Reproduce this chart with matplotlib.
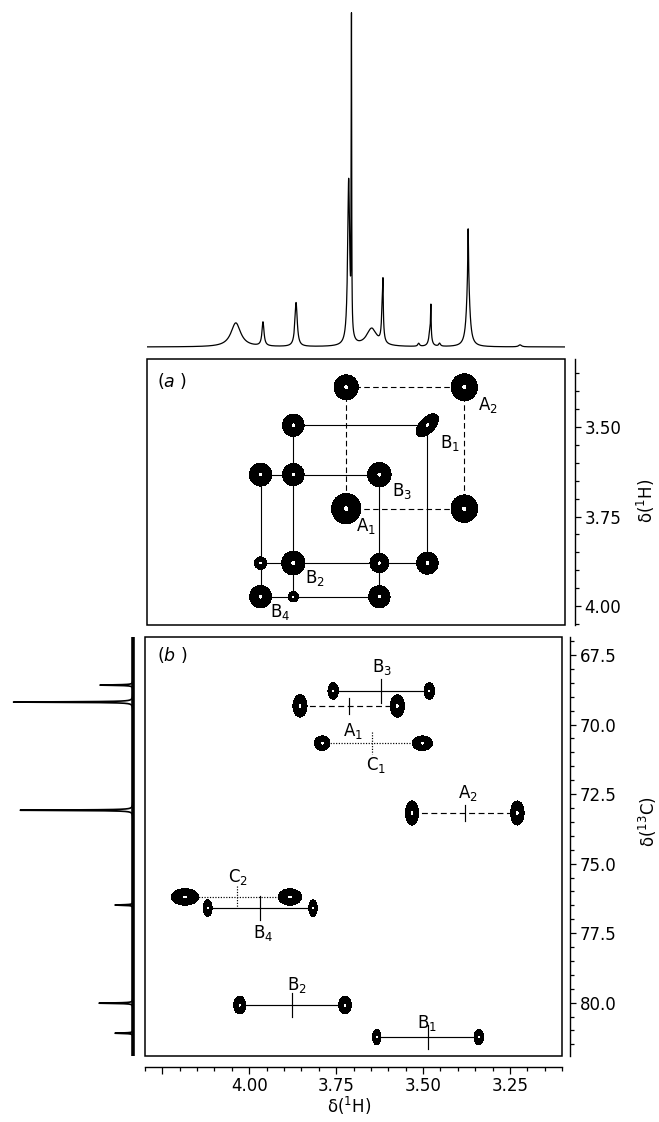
import numpy as np
import matplotlib
matplotlib.use("Agg")
import matplotlib.pyplot as plt
from matplotlib.ticker import MultipleLocator, FormatStrFormatter, FixedLocator, FixedFormatter
from matplotlib.patches import Rectangle

plt.rcParams['font.family'] = ['DejaVu Sans']
plt.rcParams['mathtext.fontset'] = 'dejavusans'

# ---------------- data ----------------
# 1D proton spectrum (top trace): peak position (ppm), height (px above baseline), half-width (ppm)
h1_ppm = [4.045, 3.967, 3.872, 3.721, 3.713, 3.655, 3.624, 3.6225,
          3.520, 3.487, 3.485, 3.460, 3.378, 3.378, 3.229]
h1_height = [24, 24, 44, 165, 306, 18, 44, 30,
             3, 18, 28, 3, 66, 52, 2]
h1_width = [0.017, 0.0035, 0.004, 0.0035, 0.0007, 0.018, 0.0028, 0.0008,
            0.003, 0.004, 0.0008, 0.003, 0.0055, 0.0012, 0.005]

# 1D carbon spectrum (left trace): position (ppm), height (px)
c13_ppm = [68.58, 69.19, 73.08, 76.49, 80.02, 81.10]
c13_height = [33, 120, 113, 18, 34, 18]

# Panel (a): proton shifts of the spin systems
spins = ['A1', 'A2', 'B1', 'B2', 'B3', 'B4']
spin_shift = [3.728, 3.389, 3.495, 3.880, 3.633, 3.974]

# cross peaks of (a): (F2 spin, F1 spin), contour size (ppm), tilt
cosy_f2 = ['A1', 'A2', 'B2', 'B1', 'B4', 'B2', 'B3', 'A1', 'A2', 'B4', 'B2', 'B3', 'B1', 'B4', 'B2', 'B3']
cosy_f1 = ['A2', 'A2', 'B1', 'B1', 'B3', 'B3', 'B3', 'A1', 'A1', 'B2', 'B2', 'B2', 'B2', 'B4', 'B4', 'B4']
cosy_size = [0.0152, 0.0165, 0.0136, 0.0140, 0.0140, 0.0136, 0.0148, 0.0185, 0.0168,
             0.0076, 0.0146, 0.0118, 0.0136, 0.0137, 0.0064, 0.0135]
cosy_tilt = [0, 0, 0, 0.55, 0, 0, 0, 0, 0, 0, 0, 0, 0, 0, 0, 0]

# connectivity lines of (a): horizontal (row spin, from, to), vertical (column spin, from, to)
conn_dashed_h = [('A2', 'A1', 'A2'), ('A1', 'A1', 'A2')]
conn_dashed_v = [('A1', 'A2', 'A1'), ('A2', 'A2', 'A1')]
conn_solid_h = [('B1', 'B2', 'B1'), ('B3', 'B4', 'B3'), ('B2', 'B4', 'B1'), ('B4', 'B4', 'B3')]
conn_solid_v = [('B2', 'B1', 'B4'), ('B1', 'B1', 'B2'), ('B4', 'B3', 'B4'), ('B3', 'B3', 'B4')]

# label positions of (a) (F2 ppm, F1 ppm)
a_label_text = ['A2', 'B1', 'B3', 'A1', 'B2', 'B4']
a_label_x = [3.321, 3.430, 3.568, 3.671, 3.818, 3.918]
a_label_y = [3.439, 3.545, 3.679, 3.777, 3.922, 4.017]

# Panel (b): coupled HSQC rows
hsqc_name = ['B3', 'A1', 'C1', 'A2', 'C2', 'B4', 'B2', 'B1']
hsqc_c13 = [68.79, 69.33, 70.67, 73.18, 76.20, 76.60, 80.09, 81.24]
hsqc_h = [3.620, 3.714, 3.646, 3.380, 4.034, 3.968, 3.876, 3.486]
hsqc_split = [0.277, 0.280, 0.288, 0.303, 0.302, 0.303, 0.303, 0.294]
hsqc_sx_left = [0.0066, 0.0089, 0.0098, 0.0082, 0.0173, 0.0056, 0.0076, 0.0053]
hsqc_sx_right = [0.0066, 0.0089, 0.0128, 0.0085, 0.0147, 0.0053, 0.0079, 0.0060]
hsqc_sy = [0.130, 0.176, 0.115, 0.190, 0.130, 0.130, 0.140, 0.122]
hsqc_label_x = [3.617, 3.701, 3.635, 3.372, 4.033, 3.960, 3.862, 3.488]
hsqc_label_y = [67.93, 70.23, 71.46, 72.46, 75.49, 77.50, 79.37, 80.74]

h_ticks = [4.25, 4.00, 3.75, 3.50, 3.25]
h_ticklabels = ['', '4.00', '3.75', '3.50', '3.25']

# ---------------- figure ----------------
W, H = 659, 1122
fig = plt.figure(figsize=(W / 100, H / 100), dpi=100)


def rect(x0, y0, x1, y1):
    return [x0 / W, 1 - y1 / H, (x1 - x0) / W, (y1 - y0) / H]


XLIM = (4.30, 3.10)
LW_FRAME = 1.1
CENTER = 0.965


def lorentz_sum(axis, pos, hgt, wid):
    out = np.zeros_like(axis)
    for p, h, g in zip(pos, hgt, wid):
        out += h * g ** 2 / ((axis - p) ** 2 + g ** 2)
    return out


def gauss_field(X, Y, px, py, sx, sy, rho):
    Z = np.zeros_like(X)
    for a, b, u, v, r in zip(px, py, sx, sy, rho):
        dx = (X - a) / u
        dy = (Y - b) / v
        Z += np.exp(-(dx ** 2 - 2 * r * dx * dy + dy ** 2) / (2 * (1 - r ** 2)))
    return Z


def framed(ax):
    ax.add_patch(Rectangle((0, 0), 1, 1, transform=ax.transAxes, fill=False,
                           lw=LW_FRAME, ec='black', clip_on=False, zorder=6))
    for s in ['left', 'top', 'bottom', 'right']:
        ax.spines[s].set_visible(False)


# ---- top 1D proton spectrum ----
ax_t = fig.add_axes(rect(147, 5, 565, 352))
xh = np.linspace(3.10, 4.30, 12001)
ax_t.plot(xh, lorentz_sum(xh, h1_ppm, h1_height, h1_width), color='black', lw=0.9)
ax_t.set_xlim(XLIM)
ax_t.set_ylim(-5, 342)
ax_t.axis('off')

# ---- panel (a) ----
ax_a = fig.add_axes(rect(147, 359, 565, 625))
ax_a.set_xlim(XLIM)
ax_a.set_ylim(4.053, 3.310)
framed(ax_a)
ax_a.spines['right'].set_visible(True)
ax_a.spines['right'].set_position(('outward', 7))
ax_a.spines['right'].set_linewidth(1.0)
ax_a.set_xticks([])
ax_a.yaxis.tick_right()
ax_a.yaxis.set_major_locator(MultipleLocator(0.25))
ax_a.yaxis.set_minor_locator(MultipleLocator(0.05))
ax_a.yaxis.set_major_formatter(FormatStrFormatter('%.2f'))
ax_a.tick_params(axis='y', which='major', direction='out', length=4.5, width=0.9, pad=2.5, labelsize=12)
ax_a.tick_params(axis='y', which='minor', direction='out', length=2.7, width=0.9)

sh = dict(zip(spins, spin_shift))
for row, a, b in conn_dashed_h:
    ax_a.plot([sh[a], sh[b]], [sh[row], sh[row]], color='black', lw=0.8, ls=(0, (5, 3)), zorder=2)
for col, a, b in conn_dashed_v:
    ax_a.plot([sh[col], sh[col]], [sh[a], sh[b]], color='black', lw=0.8, ls=(0, (5, 3)), zorder=2)
for row, a, b in conn_solid_h:
    ax_a.plot([sh[a], sh[b]], [sh[row], sh[row]], color='black', lw=0.8, zorder=2)
for col, a, b in conn_solid_v:
    ax_a.plot([sh[col], sh[col]], [sh[a], sh[b]], color='black', lw=0.8, zorder=2)

xa = np.linspace(3.10, 4.30, 1401)
ya = np.linspace(3.31, 4.053, 900)
XA, YA = np.meshgrid(xa, ya)
ZA = gauss_field(XA, YA, [sh[s] for s in cosy_f2], [sh[s] for s in cosy_f1],
                 cosy_size, cosy_size, cosy_tilt)
ax_a.contourf(XA, YA, ZA, levels=[0.075, CENTER, 100], colors=['black', 'white'], zorder=3)

for t, x, y in zip(a_label_text, a_label_x, a_label_y):
    ax_a.text(x, y, f'{t[0]}$_{{{t[1]}}}$', ha='center', va='center', fontsize=12, zorder=5)
ax_a.text(0.024, 0.917, r'($\it{a}$ )', transform=ax_a.transAxes, ha='left', va='center', fontsize=12.5)

# ---- panel (b) ----
ax_b = fig.add_axes(rect(145, 637, 562, 1056))
ax_b.set_xlim(XLIM)
ax_b.set_ylim(81.92, 66.85)
framed(ax_b)
ax_b.spines['right'].set_visible(True)
ax_b.spines['right'].set_position(('outward', 6))
ax_b.spines['bottom'].set_visible(True)
ax_b.spines['bottom'].set_position(('outward', 8))
ax_b.spines['right'].set_linewidth(1.0)
ax_b.spines['bottom'].set_linewidth(1.0)
ax_b.yaxis.tick_right()
ax_b.yaxis.set_major_locator(MultipleLocator(2.5))
ax_b.yaxis.set_minor_locator(MultipleLocator(0.5))
ax_b.yaxis.set_major_formatter(FormatStrFormatter('%.1f'))
ax_b.xaxis.set_major_locator(FixedLocator(h_ticks))
ax_b.xaxis.set_major_formatter(FixedFormatter(h_ticklabels))
ax_b.xaxis.set_minor_locator(MultipleLocator(0.05))
ax_b.tick_params(axis='y', which='major', direction='out', length=4.5, width=0.9, pad=2.5, labelsize=12)
ax_b.tick_params(axis='y', which='minor', direction='out', length=2.7, width=0.9)
ax_b.tick_params(axis='x', which='major', direction='out', length=5, width=0.9, pad=2, labelsize=12)
ax_b.tick_params(axis='x', which='minor', direction='out', length=3, width=0.9)

styles = {'A': (0, (5, 3)), 'B': '-', 'C': (0, (1, 1.3))}
cross_half = {'A': 0.30, 'B': 0.43, 'C': 0.40}
pk_x, pk_y, pk_sx, pk_sy = [], [], [], []
for n, c, h, j, sl, sr, sy in zip(hsqc_name, hsqc_c13, hsqc_h, hsqc_split,
                                   hsqc_sx_left, hsqc_sx_right, hsqc_sy):
    ls = styles[n[0]]
    ax_b.plot([h + j / 2, h - j / 2], [c, c], color='black', lw=0.85, ls=ls, zorder=2)
    vls = '-' if n[0] == 'A' else ls
    ax_b.plot([h, h], [c - cross_half[n[0]], c + cross_half[n[0]]], color='black',
              lw=0.85, ls=vls, zorder=2)
    pk_x += [h + j / 2, h - j / 2]
    pk_y += [c, c]
    pk_sx += [sl, sr]
    pk_sy += [sy, sy]

xb = np.linspace(3.10, 4.30, 1401)
yb = np.linspace(66.85, 81.92, 900)
XB, YB = np.meshgrid(xb, yb)
ZB = gauss_field(XB, YB, pk_x, pk_y, pk_sx, pk_sy, [0] * len(pk_x))
ax_b.contourf(XB, YB, ZB, levels=[0.075, CENTER, 100], colors=['black', 'white'], zorder=3)

for t, x, y in zip(hsqc_name, hsqc_label_x, hsqc_label_y):
    ax_b.text(x, y, f'{t[0]}$_{{{t[1]}}}$', ha='center', va='center', fontsize=12, zorder=5)
ax_b.text(0.029, 0.957, r'($\it{b}$ )', transform=ax_b.transAxes, ha='left', va='center', fontsize=12.5)

# ---- left 1D carbon spectrum ----
ax_c = fig.add_axes(rect(0, 637, 140, 1056))
yc = np.linspace(66.85, 81.92, 9001)
ax_c.plot(lorentz_sum(yc, c13_ppm, c13_height, [0.012] * len(c13_ppm)), yc, color='black', lw=1.2)
ax_c.axvline(0, color='black', lw=2.6)
ax_c.set_xlim(133, -7)
ax_c.set_ylim(81.92, 66.85)
ax_c.axis('off')

# ---- axis titles ----
fig.text(646 / W, 1 - 501 / H, 'δ($^{1}$H)', rotation=90, ha='center', va='center', fontsize=12)
fig.text(648 / W, 1 - 822 / H, 'δ($^{13}$C)', rotation=90, ha='center', va='center', fontsize=12)
fig.text(349 / W, 1 - 1106 / H, 'δ($^{1}$H)', ha='center', va='center', fontsize=12)

fig.savefig('out.png', dpi=100)
